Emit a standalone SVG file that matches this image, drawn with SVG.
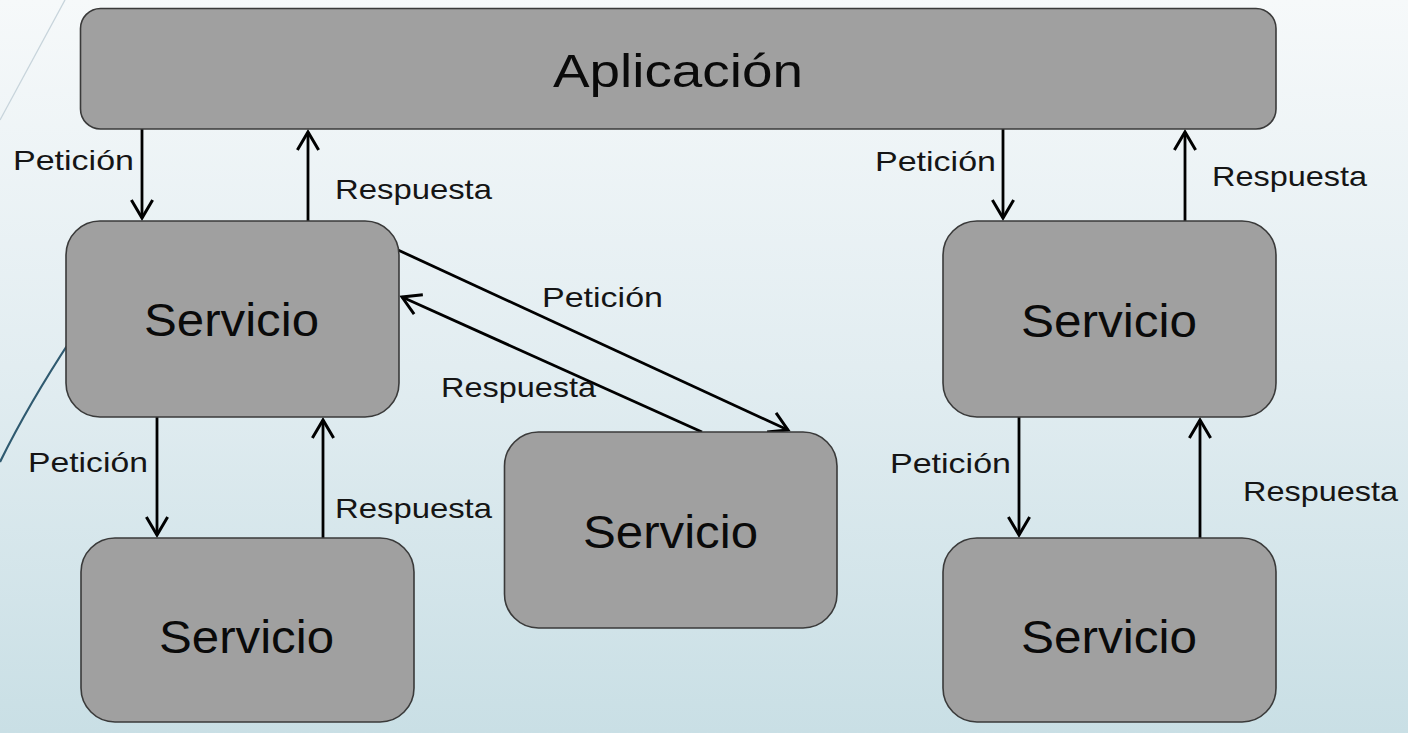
<svg xmlns="http://www.w3.org/2000/svg" width="1408" height="733" viewBox="0 0 1408 733">
  <defs>
    <linearGradient id="bg" x1="0" y1="0" x2="0" y2="1">
      <stop offset="0" stop-color="#f6f9fa"/>
      <stop offset="0.5" stop-color="#e2edf1"/>
      <stop offset="1" stop-color="#c9dfe5"/>
    </linearGradient>
    <marker id="arr" markerUnits="userSpaceOnUse" markerWidth="34" markerHeight="34" viewBox="-22 -16 27 32" refX="0" refY="0" orient="auto">
      <path d="M-17,-10 L0,0 L-17,10" fill="none" stroke="#000" stroke-width="2.8" stroke-linejoin="miter"/>
    </marker>
    <style>
      .box { fill: #a0a0a0; stroke: #3a3a3a; stroke-width: 1.6; }
      .big { font-family: "Liberation Sans", "DejaVu Sans", sans-serif; font-size: 46px; fill: #0a0a0a; }
      .lbl { font-family: "Liberation Sans", "DejaVu Sans", sans-serif; font-size: 28px; fill: #151515; }
      .con { stroke: #000; stroke-width: 2.8; fill: none; marker-end: url(#arr); }
    </style>
  </defs>

  <rect x="0" y="0" width="1408" height="733" fill="url(#bg)"/>
  <g id="decor">
    <line x1="65" y1="0" x2="0" y2="120" stroke="#c7d4db" stroke-width="1.3"/>
    <path d="M0,462 Q28,405 72,338" fill="none" stroke="#2f5a70" stroke-width="2.2"/>
  </g>

  <g id="connectors">
    <line class="con" x1="142" y1="129" x2="142" y2="218"/>
    <line class="con" x1="308" y1="221" x2="308" y2="132"/>
    <line class="con" x1="157" y1="417" x2="157" y2="535"/>
    <line class="con" x1="323" y1="538" x2="323" y2="420"/>
    <line class="con" x1="1003" y1="129" x2="1003" y2="218"/>
    <line class="con" x1="1185" y1="221" x2="1185" y2="132"/>
    <line class="con" x1="1019" y1="417" x2="1019" y2="535"/>
    <line class="con" x1="1200" y1="538" x2="1200" y2="420"/>
    <line class="con" x1="398" y1="250" x2="788" y2="430"/>
    <line class="con" x1="702" y1="432" x2="402" y2="297"/>
    <text class="lbl" x="13" y="170" textLength="121" lengthAdjust="spacingAndGlyphs">Petición</text>
    <text class="lbl" x="335" y="199" textLength="157" lengthAdjust="spacingAndGlyphs">Respuesta</text>
    <text class="lbl" x="28" y="472" textLength="120" lengthAdjust="spacingAndGlyphs">Petición</text>
    <text class="lbl" x="335" y="518" textLength="157" lengthAdjust="spacingAndGlyphs">Respuesta</text>
    <text class="lbl" x="875" y="171" textLength="121" lengthAdjust="spacingAndGlyphs">Petición</text>
    <text class="lbl" x="1212" y="186" textLength="155" lengthAdjust="spacingAndGlyphs">Respuesta</text>
    <text class="lbl" x="890" y="473" textLength="121" lengthAdjust="spacingAndGlyphs">Petición</text>
    <text class="lbl" x="1243" y="501" textLength="155" lengthAdjust="spacingAndGlyphs">Respuesta</text>
    <text class="lbl" x="542" y="307" textLength="121" lengthAdjust="spacingAndGlyphs">Petición</text>
    <text class="lbl" x="441" y="397" textLength="155" lengthAdjust="spacingAndGlyphs">Respuesta</text>
  </g>

  <g id="app">
    <rect class="box" x="80.5" y="8.5" width="1195.5" height="120.5" rx="20"/>
    <text class="big" x="553" y="87" textLength="250" lengthAdjust="spacingAndGlyphs">Aplicación</text>
  </g>
  <g id="svc1">
    <rect class="box" x="66" y="221" width="333" height="196" rx="34"/>
    <text class="big" x="144" y="336" textLength="175" lengthAdjust="spacingAndGlyphs">Servicio</text>
  </g>
  <g id="svc2">
    <rect class="box" x="81" y="538" width="333" height="184" rx="34"/>
    <text class="big" x="159" y="653" textLength="175" lengthAdjust="spacingAndGlyphs">Servicio</text>
  </g>
  <g id="svc3">
    <rect class="box" x="504.5" y="432" width="332.5" height="196" rx="34"/>
    <text class="big" x="583" y="548" textLength="175" lengthAdjust="spacingAndGlyphs">Servicio</text>
  </g>
  <g id="svc4">
    <rect class="box" x="943" y="221" width="333" height="196" rx="34"/>
    <text class="big" x="1021" y="337" textLength="176" lengthAdjust="spacingAndGlyphs">Servicio</text>
  </g>
  <g id="svc5">
    <rect class="box" x="943" y="538" width="333" height="184" rx="34"/>
    <text class="big" x="1021" y="653" textLength="176" lengthAdjust="spacingAndGlyphs">Servicio</text>
  </g>
</svg>
